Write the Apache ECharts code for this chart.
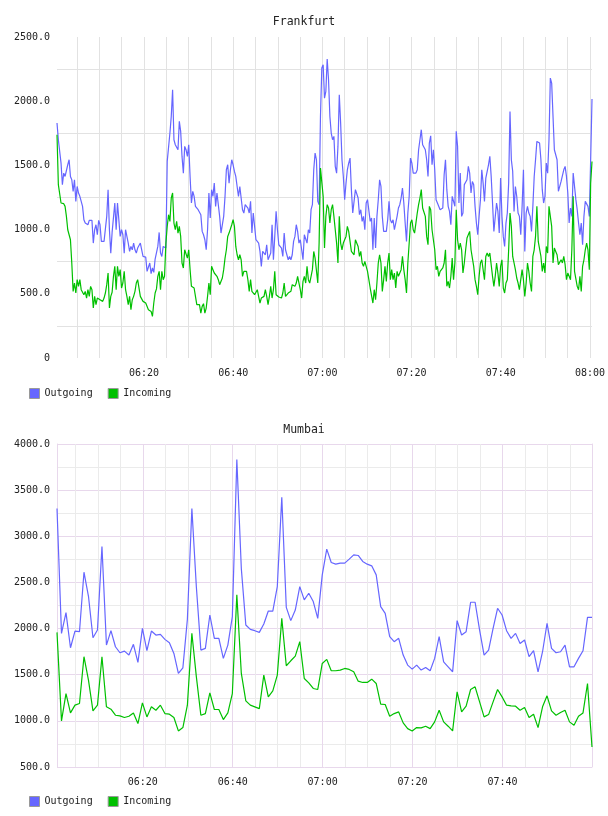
<!DOCTYPE html>
<html>
<head>
<meta charset="utf-8">
<script src="https://cdn.jsdelivr.net/npm/echarts@6/dist/echarts.min.js"></script>
<style>
    html, body { margin: 0; padding: 0; background: #fff; }
    #chart { width: 608px; height: 816px; }
</style>
</head>
<body>
<div id="chart"></div>
<script>
// x values are minutes of the day (360 = 06:00)
// Frankfurt: samples evenly spaced from 06:00:30 to 08:00:00
var frankfurtStart = 360.5;
var frankfurtEnd = 480;
var frankfurtOutgoing = [
    1830, 1700, 1687, 1518, 1350, 1440, 1414, 1427, 1505, 1544,
    1414, 1388, 1298, 1388, 1220, 1336, 1285, 1259, 1220, 1181,
    1077, 1051, 1051, 1038, 1072, 1077, 1072, 895, 999, 1038,
    960, 1072, 1038, 908, 895, 908, 921, 1103, 1311, 999,
    817, 978, 978, 1207, 999, 1207, 1207, 947, 999, 960,
    817, 999, 986, 895, 830, 869, 843, 895, 843, 817,
    856, 843, 895, 843, 791, 786, 786, 675, 662, 740,
    657, 701, 667, 771, 765, 869, 978, 817, 791, 869,
    874, 856, 1531, 1531, 1752, 1882, 2089, 1700, 1661, 1661,
    1622, 1843, 1765, 1570, 1440, 1648,
    1622, 1570, 1661, 1414, 1207, 1298, 1259, 1181, 1181, 1155,
    1168, 1116, 986, 960, 921, 843, 999, 1285, 1090, 1311,
    1259, 1362, 1181, 1285, 1272, 1103, 973, 986, 1103, 1259,
    1466, 1505, 1362, 1466, 1544, 1505, 1453, 1414, 1336, 1259,
    1336, 1336, 1155, 1129, 1194, 1194, 1168, 1129, 1220, 973,
    1129, 1025, 921, 908, 895, 830, 714, 830, 817, 804,
    882, 765, 765, 817, 1038, 765, 947, 1142, 999, 882,
    895, 856, 791, 973, 843, 804, 765, 791, 765, 804,
    908, 947, 1038, 986, 895, 921, 843, 765, 960, 973,
    895, 999, 973, 1155, 1194, 1466, 1596, 1544, 1220, 1194,
    1882, 2258, 2284, 2024, 2076, 2328, 2167, 1882, 1752, 1700,
    1726, 1492, 1440, 1648, 2050, 1830, 1544, 1414, 1233, 1362,
    1466, 1518, 1557, 1311, 1129, 1142, 1311, 1298, 1246, 1116,
    1155, 1064, 1103, 999, 1207, 1233, 1233, 1064, 1090, 843,
    1090, 856, 1103, 1233, 1388, 1336, 1103, 986, 999, 986,
    1077, 1220, 1077, 1051, 1077, 999, 1051, 1103, 1168, 1194,
    1246, 1324, 1207, 1051, 908, 1129, 1259, 1557, 1518, 1440,
    1440, 1440, 1466, 1622, 1700, 1778, 1661, 1674, 1622, 1544,
    1414, 1674, 1731, 1505, 1622, 1466, 1233, 1207, 1194, 1155,
    1168, 1168, 1427, 1544, 1311, 1181, 1142, 1038, 1259, 1246,
    1181, 1765, 1648, 1207, 1440, 1103, 1129, 1350, 1362, 1388,
    1492, 1440, 1285, 1375, 1350, 1181, 1051, 960, 1103, 1233,
    1466, 1362, 1220, 1401, 1414, 1505, 1570, 1414, 1207, 986,
    973, 1207, 1142, 973, 1401, 1103, 947, 869, 1051, 1129,
    1362, 1920, 1544, 1453, 1142, 1336, 1259, 1129, 1103, 960,
    1181, 1466, 830, 1129, 1181, 1129, 1103, 986, 1181, 1414,
    1544, 1687, 1700, 1674, 1544, 1311, 1207, 1259, 1518, 1440,
    1700, 2180, 2141, 1882, 1622, 1635, 1544, 1298, 1298, 1375,
    1362, 1466, 1492, 1414, 1285, 1051, 1168, 1103, 1440, 1453,
    1233, 1155, 1051, 960, 1051, 882, 1103, 1220, 1207, 1181,
    1103, 1544, 2017
];
var frankfurtIncoming = [
    1739, 1350, 1336, 1207, 1194, 1202, 1181, 1103, 999, 986,
    921, 740, 519, 584, 506, 610, 558, 610, 532, 545,
    493, 519, 467, 532, 480, 558, 532, 389, 480, 415,
    467, 480, 454, 441, 441, 467, 506, 571, 662, 389,
    480, 512, 636, 714, 532, 714, 636, 688, 545, 584,
    675, 532, 480, 415, 480, 376, 454, 480, 519, 584,
    610, 597, 480, 467, 441, 454, 428, 441, 376, 389,
    363, 324, 428, 506, 538, 636, 675, 532, 675, 610,
    636, 895, 1025, 1116, 1064, 1246, 1285, 1051, 999, 1064,
    973, 1025, 947, 740, 701, 843,
    843, 778, 843, 688, 558, 558, 545, 480, 415, 407,
    415, 350, 402, 423, 350, 389, 480, 584, 493, 714,
    688, 662, 662, 636, 610, 571, 584, 623, 688, 778,
    843, 947, 973, 986, 1038, 1077, 1025, 869, 804, 765,
    804, 765, 636, 675, 688, 675, 610, 519, 610, 519,
    532, 493, 506, 532, 480, 428, 467, 459, 480, 532,
    480, 415, 480, 558, 467, 532, 675, 493, 480, 475,
    475, 467, 506, 584, 480, 467, 506, 493, 519, 571,
    558, 558, 584, 636, 584, 532, 467, 597, 636, 584,
    714, 610, 584, 636, 688, 830, 778, 765, 584, 900,
    1479, 1466, 1259, 856, 1103, 1194, 1168, 1051, 1155, 1194,
    1103, 999, 895, 740, 1103, 895, 843, 895, 890, 947,
    1025, 986, 908, 830, 843, 804, 921, 934, 869, 791,
    830, 740, 714, 752, 714, 675, 610, 545, 538, 428,
    532, 454, 584, 740, 804, 740, 519, 610, 714, 597,
    740, 817, 610, 688, 610, 662, 545, 675, 636, 623,
    688, 791, 688, 610, 506, 740, 895, 1051, 1077, 999,
    973, 1051, 1129, 1194, 1246, 1311, 1168, 1155, 1103, 947,
    882, 1181, 1155, 999, 986, 843, 688, 714, 636, 675,
    688, 701, 740, 843, 558, 597, 545, 636, 778, 610,
    740, 1155, 921, 843, 895, 843, 662, 740, 843, 934,
    921, 986, 843, 778, 714, 610, 558, 493, 636, 740,
    765, 752, 610, 791, 817, 791, 817, 830, 636, 558,
    636, 740, 662, 558, 714, 765, 545, 506, 584, 610,
    843, 1129, 1025, 791, 740, 688, 623, 584, 532, 545,
    688, 610, 480, 584, 740, 675, 584, 519, 791, 843,
    947, 1181, 908, 921, 791, 675, 740, 662, 869, 817,
    1181, 1194, 1025, 740, 856, 830, 804, 727, 740, 765,
    740, 791, 727, 610, 662, 636, 610, 843, 1259, 675,
    675, 558, 532, 636, 519, 714, 765, 843, 895, 843,
    688, 1362, 1531
];

// Mumbai: one sample per minute from 06:00:55
var mumbaiStart = 360 + 55 / 60;
var mumbaiStep = 1;
var mumbaiOutgoing = [
    3300, 1948, 2172, 1792, 1973, 1966, 2611, 2350, 1901, 1984,
    2890, 1821, 1977, 1803, 1738, 1756, 1713, 1829, 1633, 2002,
    1760, 1973, 1930, 1937, 1883, 1847, 1731, 1514, 1575, 2100,
    3300, 2450, 1767, 1785, 2147, 1894, 1894, 1677, 1821, 2129,
    3831, 2650, 2039, 1991, 1977, 1959, 2049, 2190, 2190, 2455,
    3422, 2230, 2086, 2201, 2455, 2311, 2383, 2293, 2111, 2582,
    2861, 2716, 2698, 2709, 2709, 2752, 2799, 2792, 2727, 2698,
    2680, 2582, 2238, 2165, 1912, 1858, 1894, 1713, 1604, 1561,
    1604, 1550, 1579, 1543, 1677, 1912, 1640, 1586, 1532, 2086,
    1930, 1966, 2285, 2285, 1984, 1713, 1767, 2002, 2220, 2147,
    1977, 1894, 1948, 1839, 1876, 1695, 1760, 1532, 1749, 2057,
    1785, 1738, 1749, 1821, 1586, 1586, 1677, 1760, 2122, 2122
];
var mumbaiIncoming = [
    1959, 1000, 1296, 1086, 1170, 1188, 1695, 1441, 1108, 1170,
    1695, 1152, 1126, 1061, 1054, 1036, 1050, 1086, 971, 1195,
    1043, 1152, 1115, 1170, 1079, 1072, 1036, 891, 927, 1170,
    1948, 1477, 1061, 1079, 1304, 1123, 1123, 1014, 1086, 1296,
    2365, 1514, 1217, 1170, 1152, 1133, 1496, 1260, 1325, 1496,
    2111, 1597, 1651, 1702, 1858, 1459, 1412, 1351, 1340, 1622,
    1666, 1543, 1543, 1550, 1568, 1557, 1532, 1430, 1416, 1416,
    1452, 1405, 1181, 1177, 1050, 1079, 1097, 978, 916, 891,
    927, 924, 942, 916, 989, 1115, 989, 942, 891, 1315,
    1097, 1159, 1340, 1369, 1206, 1043, 1068, 1206, 1340, 1260,
    1170, 1162, 1159, 1115, 1144, 1036, 1072, 927, 1152, 1271,
    1108, 1061, 1090, 1115, 989, 953, 1050, 1086, 1405, 717
];
var mumbaiEnd = mumbaiStart + (mumbaiOutgoing.length - 1) * mumbaiStep;

var seriesNames = ['Outgoing', 'Incoming'];
var outColor = '#6666ff';
var inColor = '#00c000';
var monoFont = 'DejaVu Sans Mono';
var textColor = '#222';
var frankfurtGray = '#e2e2e2';
var mumbaiGray = '#ebebeb';
var mumbaiPink = '#e8d8ec';

var chartWidth = 608;
var frankfurtBox = { left: 57, right: 16, top: 37, height: 321 };
var mumbaiBox = { left: 57, right: 16, top: 444, height: 323 };

function pad(n) {
    return n < 10 ? '0' + n : '' + n;
}

function timeLabel(value) {
    var total = Math.round(value);
    if (total % 20 !== 0) {
        return '';
    }
    return pad(Math.floor(total / 60)) + ':' + pad(total % 60);
}

function fixedLabel(value) {
    return value === 0 ? '0' : value.toFixed(1);
}

function toPoints(values, start, step) {
    return values.map(function (v, i) {
        return [start + i * step, v];
    });
}

// a grid lying over the data grid but covering only [from, to] in time,
// so its ticks start on whole 5 or 20 minute marks
function subGrid(box, dataMin, dataMax, from, to) {
    var width = chartWidth - box.left - box.right;
    var pxPerMin = width / (dataMax - dataMin);
    var left = box.left + (from - dataMin) * pxPerMin;
    var right = chartWidth - (box.left + (to - dataMin) * pxPerMin);
    return { left: left, right: right, top: box.top, height: box.height };
}

function hiddenX(gridIndex, min, max) {
    return {
        type: 'value', gridIndex: gridIndex, min: min, max: max,
        axisLine: { show: false }, axisTick: { show: false },
        axisLabel: { show: false }, splitLine: { show: false }
    };
}

function hiddenY(gridIndex) {
    return {
        type: 'value', gridIndex: gridIndex, min: 0, max: 1,
        axisLine: { show: false }, axisTick: { show: false },
        axisLabel: { show: false }, splitLine: { show: false }
    };
}

function lineAxis(gridIndex, min, max, interval, color, labels) {
    return {
        type: 'value',
        gridIndex: gridIndex,
        min: min,
        max: max,
        interval: interval,
        axisLine: { show: false },
        axisTick: { show: false },
        axisLabel: {
            show: labels,
            formatter: timeLabel,
            margin: 10,
            color: textColor,
            fontFamily: monoFont,
            fontSize: 10
        },
        splitLine: { show: true, lineStyle: { color: color, width: 1 } }
    };
}

function lineSeries(name, color, data, xIndex, yIndex) {
    return {
        name: name,
        type: 'line',
        xAxisIndex: xIndex,
        yAxisIndex: yIndex,
        data: data,
        showSymbol: false,
        symbol: 'none',
        color: color,
        lineStyle: { color: color, width: 1.2 },
        animation: false
    };
}

function legendAt(top) {
    return {
        data: seriesNames,
        left: 24,
        top: top,
        icon: 'rect',
        itemWidth: 10,
        itemHeight: 10,
        itemGap: 15,
        itemStyle: { borderColor: '#999', borderWidth: 1 },
        textStyle: { color: textColor, fontFamily: monoFont, fontSize: 10 },
        selectedMode: false
    };
}

var titleStyle = { fontFamily: monoFont, fontSize: 11.5, fontWeight: 'normal', color: textColor };

var chart = echarts.init(document.getElementById('chart'));
chart.setOption({
    animation: false,
    backgroundColor: '#fff',
    title: [
        { text: 'Frankfurt', left: 'center', top: 11, textStyle: titleStyle },
        { text: 'Mumbai', left: 'center', top: 419, textStyle: titleStyle }
    ],
    legend: [legendAt(383), legendAt(791)],
    grid: [
        frankfurtBox,
        subGrid(frankfurtBox, frankfurtStart, frankfurtEnd, 365, 480),
        mumbaiBox,
        subGrid(mumbaiBox, mumbaiStart, mumbaiEnd, 365, 475),
        subGrid(mumbaiBox, mumbaiStart, mumbaiEnd, 380, 460)
    ],
    xAxis: [
        hiddenX(0, frankfurtStart, frankfurtEnd),
        lineAxis(1, 365, 480, 5, frankfurtGray, true),
        hiddenX(2, mumbaiStart, mumbaiEnd),
        lineAxis(3, 365, 475, 5, mumbaiGray, false),
        lineAxis(4, 380, 460, 20, mumbaiPink, true)
    ],
    yAxis: [
        {
            type: 'value',
            gridIndex: 0,
            min: 0,
            max: 2500,
            interval: 500,
            axisLine: { show: false },
            axisTick: { show: false },
            axisLabel: { formatter: fixedLabel, margin: 7, color: textColor, fontFamily: monoFont, fontSize: 10 },
            splitLine: { show: false },
            minorTick: { show: false, splitNumber: 2 },
            minorSplitLine: { show: true, lineStyle: { color: frankfurtGray, width: 1 } }
        },
        hiddenY(1),
        {
            type: 'value',
            gridIndex: 2,
            min: 500,
            max: 4000,
            interval: 500,
            axisLine: { show: true, lineStyle: { color: mumbaiPink, width: 1 } },
            axisTick: { show: false },
            axisLabel: { formatter: fixedLabel, margin: 7, color: textColor, fontFamily: monoFont, fontSize: 10 },
            splitLine: { show: true, lineStyle: { color: mumbaiPink, width: 1 } },
            minorTick: { show: false, splitNumber: 2 },
            minorSplitLine: { show: true, lineStyle: { color: mumbaiGray, width: 1 } }
        },
        {
            type: 'value',
            gridIndex: 2,
            position: 'right',
            min: 500,
            max: 4000,
            axisLine: { show: true, lineStyle: { color: mumbaiPink, width: 1 } },
            axisTick: { show: false },
            axisLabel: { show: false },
            splitLine: { show: false }
        },
        hiddenY(3),
        hiddenY(4)
    ],
    series: [
        lineSeries(seriesNames[0], outColor, toPoints(frankfurtOutgoing, frankfurtStart, (frankfurtEnd - frankfurtStart) / (frankfurtOutgoing.length - 1)), 0, 0),
        lineSeries(seriesNames[1], inColor, toPoints(frankfurtIncoming, frankfurtStart, (frankfurtEnd - frankfurtStart) / (frankfurtIncoming.length - 1)), 0, 0),
        lineSeries(seriesNames[0], outColor, toPoints(mumbaiOutgoing, mumbaiStart, mumbaiStep), 2, 2),
        lineSeries(seriesNames[1], inColor, toPoints(mumbaiIncoming, mumbaiStart, mumbaiStep), 2, 2)
    ]
});
</script>
</body>
</html>
